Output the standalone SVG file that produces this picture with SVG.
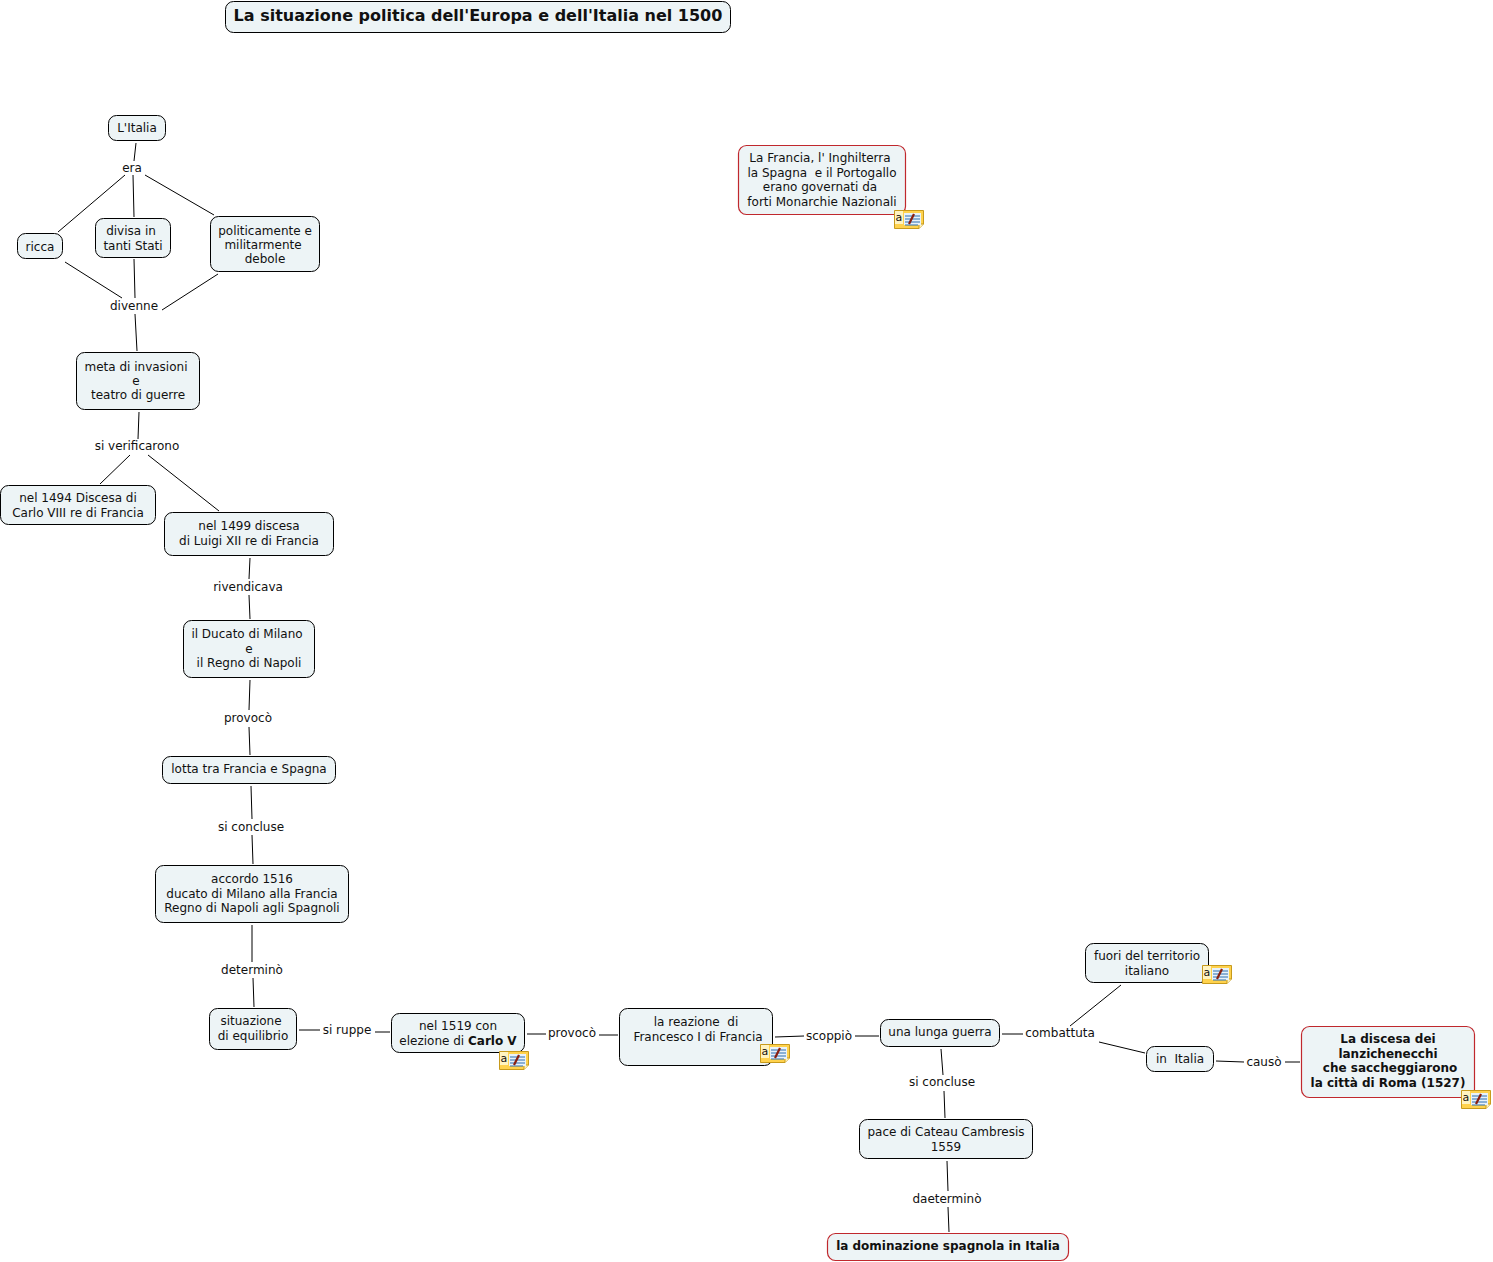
<svg xmlns="http://www.w3.org/2000/svg" width="1493" height="1262" viewBox="0 0 1493 1262">
<style>
text{font-family:"DejaVu Sans",Verdana,sans-serif;font-size:12px;fill:#111;text-anchor:middle;white-space:pre}
.b{font-weight:bold}
.n{fill:#edf4f6;stroke:#000;stroke-width:1;rx:8px}
.r{fill:#edf4f6;stroke:#c0282d;stroke-width:1.200;rx:8px}
#connectors line{stroke:#000;stroke-width:1}
.ib{fill:#ffd24d;stroke:#c79a1c;stroke-width:1}
.il{stroke:#2c6fb0;stroke-width:1}
.ip{stroke:#8a1f10;stroke-width:2.200}
.ia{font-size:11px;text-anchor:start}
</style>
<defs>
<g id="note">
<path class="ib" d="M.5 .5H29.500V14L25 18.500H.5Z"/>
<path d="M25 18.500V14H29.500" fill="#fff3c0" stroke="#c79a1c"/>
<rect x="1" y="1" width="8" height="13" fill="#fff3c0"/>
<rect x="10" y="3" width="17" height="12" fill="#e8f2fa"/>
<text class="ia" x="1.500" y="10.500">a</text>
<path class="il" d="M11 6H26M11 9H26M11 12H26M11 15H24"/>
<path class="ip" d="M15 14L20 4"/>
</g>
</defs>
<rect width="1493" height="1262" fill="#fff"/>
<g id="connectors">
<line x1="136" y1="143" x2="134" y2="161"/>
<line x1="125" y1="175" x2="58" y2="232"/>
<line x1="133" y1="175" x2="134" y2="217"/>
<line x1="145" y1="175" x2="214" y2="215"/>
<line x1="65" y1="262" x2="122" y2="298"/>
<line x1="134" y1="259" x2="135" y2="298"/>
<line x1="218" y1="274" x2="162" y2="310"/>
<line x1="135" y1="314" x2="137" y2="351"/>
<line x1="139" y1="412" x2="138" y2="439"/>
<line x1="130" y1="455" x2="100" y2="484"/>
<line x1="148" y1="455" x2="219" y2="511"/>
<line x1="250" y1="558" x2="249" y2="579"/>
<line x1="249" y1="595" x2="250" y2="619"/>
<line x1="250" y1="680" x2="249" y2="710"/>
<line x1="249" y1="727" x2="250" y2="755"/>
<line x1="251" y1="786" x2="252" y2="819"/>
<line x1="252" y1="835" x2="253" y2="864"/>
<line x1="252" y1="925" x2="252" y2="962"/>
<line x1="253" y1="978" x2="254" y2="1007"/>
<line x1="299" y1="1030" x2="320" y2="1030"/>
<line x1="375" y1="1032" x2="390" y2="1032"/>
<line x1="527" y1="1034" x2="546" y2="1034"/>
<line x1="599" y1="1035" x2="618" y2="1035"/>
<line x1="775" y1="1037" x2="804" y2="1036"/>
<line x1="855" y1="1036" x2="879" y2="1036"/>
<line x1="1002" y1="1034" x2="1023" y2="1034"/>
<line x1="1070" y1="1026" x2="1121" y2="985"/>
<line x1="1099" y1="1042" x2="1145" y2="1053"/>
<line x1="1216" y1="1061" x2="1244" y2="1062"/>
<line x1="1285" y1="1062" x2="1300" y2="1062"/>
<line x1="941" y1="1049" x2="943" y2="1075"/>
<line x1="944" y1="1091" x2="945" y2="1118"/>
<line x1="947" y1="1161" x2="948" y2="1191"/>
<line x1="948" y1="1207" x2="949" y2="1232"/>
</g>
<g id="title"><rect class="n" x="225.500" y="1.500" width="505" height="31"/><text class="b" style="font-size:16px" x="478" y="21">La situazione politica dell'Europa e dell'Italia nel 1500</text></g>
<g id="n-italia"><rect class="n" x="108.500" y="115.500" width="57" height="25"/><text x="137" y="132">L'Italia</text></g>
<g id="n-ricca"><rect class="n" x="17.500" y="233.500" width="45" height="25"/><text x="40" y="251">ricca</text></g>
<g id="n-divisa"><rect class="n" x="95.500" y="218.500" width="75" height="39"/><text x="131" y="235">divisa in</text><text x="133" y="250">tanti Stati</text></g>
<g id="n-debole"><rect class="n" x="210.500" y="216.500" width="109" height="55"/><text x="265" y="235">politicamente e</text><text x="263" y="249">militarmente</text><text x="265" y="263">debole</text></g>
<g id="n-meta"><rect class="n" x="76.500" y="352.500" width="123" height="57"/><text x="136" y="371">meta di invasioni</text><text x="136" y="385">e</text><text x="138" y="399">teatro di guerre</text></g>
<g id="n-1494"><rect class="n" x="0.500" y="485.500" width="155" height="39"/><text x="78" y="502">nel 1494 Discesa di</text><text x="78" y="517">Carlo VIII re di Francia</text></g>
<g id="n-1499"><rect class="n" x="164.500" y="512.500" width="169" height="43"/><text x="249" y="530">nel 1499 discesa</text><text x="249" y="545">di Luigi XII re di Francia</text></g>
<g id="n-ducato"><rect class="n" x="183.500" y="620.500" width="131" height="57"/><text x="247" y="638">il Ducato di Milano</text><text x="249" y="653">e</text><text x="249" y="667">il Regno di Napoli</text></g>
<g id="n-lotta"><rect class="n" x="162.500" y="756.500" width="173" height="27"/><text x="249" y="773">lotta tra Francia e Spagna</text></g>
<g id="n-accordo"><rect class="n" x="155.500" y="865.500" width="193" height="57"/><text x="252" y="883">accordo 1516</text><text x="252" y="898">ducato di Milano alla Francia</text><text x="252" y="912">Regno di Napoli agli Spagnoli</text></g>
<g id="n-equilibrio"><rect class="n" x="209.500" y="1008.500" width="87" height="41"/><text x="251" y="1025">situazione</text><text x="253" y="1040">di equilibrio</text></g>
<g id="n-1519"><rect class="n" x="391.500" y="1013.500" width="133" height="39"/><text x="458" y="1030">nel 1519 con</text><text x="458" y="1045">elezione di <tspan class="b">Carlo V</tspan></text><use href="#note" x="499" y="1051"/></g>
<g id="n-reazione"><rect class="n" x="619.500" y="1008.500" width="153" height="57"/><text x="696" y="1026">la reazione  di</text><text x="698" y="1041">Francesco I di Francia</text><use href="#note" x="760" y="1044"/></g>
<g id="n-guerra"><rect class="n" x="880.500" y="1019.500" width="119" height="27"/><text x="940" y="1036">una lunga guerra</text></g>
<g id="n-fuori"><rect class="n" x="1085.500" y="943.500" width="123" height="39"/><text x="1147" y="960">fuori del territorio</text><text x="1147" y="975">italiano</text><use href="#note" x="1202" y="965"/></g>
<g id="n-in-italia"><rect class="n" x="1146.500" y="1046.500" width="67" height="25"/><text x="1180" y="1063">in  Italia</text></g>
<g id="n-lanzi"><rect class="r" x="1301.500" y="1026.500" width="173" height="71"/><text class="b" x="1388" y="1043">La discesa dei</text><text class="b" x="1388" y="1058">lanzichenecchi</text><text class="b" x="1390" y="1072">che saccheggiarono</text><text class="b" x="1388" y="1087">la città di Roma (1527)</text><use href="#note" x="1461" y="1090"/></g>
<g id="n-pace"><rect class="n" x="859.500" y="1119.500" width="173" height="39"/><text x="946" y="1136">pace di Cateau Cambresis</text><text x="946" y="1151">1559</text></g>
<g id="n-dominazione"><rect class="r" x="827.500" y="1233.500" width="241" height="27"/><text class="b" x="948" y="1250">la dominazione spagnola in Italia</text></g>
<g id="n-francia"><rect class="r" x="738.500" y="145.500" width="167" height="69"/><text x="820" y="162">La Francia, l' Inghilterra</text><text x="822" y="177">la Spagna  e il Portogallo</text><text x="820" y="191">erano governati da</text><text x="822" y="206">forti Monarchie Nazionali</text><use href="#note" x="894" y="210"/></g>
<g id="linking-labels">
<text x="132" y="172">era</text>
<text x="134" y="310">divenne</text>
<text x="137" y="450">si verificarono</text>
<text x="248" y="591">rivendicava</text>
<text x="248" y="722">provocò</text>
<text x="251" y="831">si concluse</text>
<text x="252" y="974">determinò</text>
<text x="347" y="1034">si ruppe</text>
<text x="572" y="1037">provocò</text>
<text x="829" y="1040">scoppiò</text>
<text x="1060" y="1037">combattuta</text>
<text x="1264" y="1066">causò</text>
<text x="942" y="1086">si concluse</text>
<text x="947" y="1203">daeterminò</text>
</g>
</svg>
